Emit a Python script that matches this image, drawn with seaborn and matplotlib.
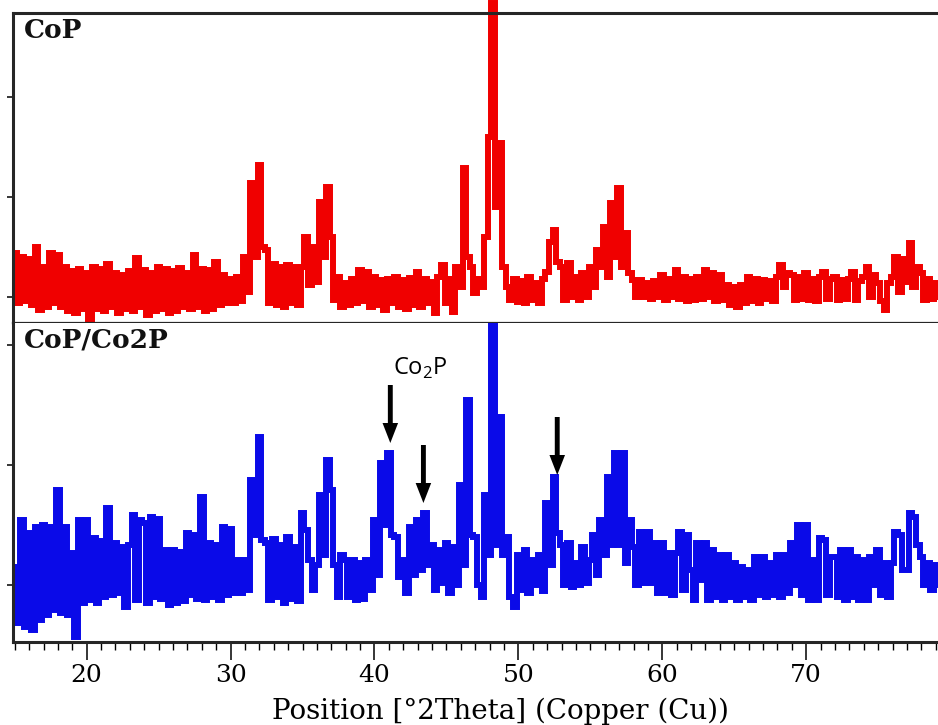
import numpy as np
import pandas as pd
import matplotlib
matplotlib.use("Agg")
import matplotlib.pyplot as plt
from matplotlib.ticker import MultipleLocator, FixedLocator, NullFormatter
import seaborn as sns

# ---- diffraction data (2theta grid starts at 15 deg, 0.25 deg steps) ----
two_theta_start = 15.0
two_theta_step = 0.25

cop_counts = [
    44, -6, 40, -4,      # 15
    38, -8, 50, -13,     # 16
    30, -10, 44, -6,     # 17
    42, -10, 30, -14,    # 18
    26, -16, 28, -12,    # 19
    24, -23, 30, -12,    # 20
    28, -14, 33, -10,    # 21
    24, -16, 22, -12,    # 22
    26, -14, 39, -10,    # 23
    27, -18, 24, -14,    # 24
    30, -12, 28, -16,    # 25
    26, -14, 29, -10,    # 26
    24, -12, 42, -10,    # 27
    28, -14, 27, -12,    # 28
    35, -8, 22, -6,      # 29
    18, -6, 20, -4,      # 30
    40, 5, 114, 40,      # 31
    132, 50, 47, -6,     # 32
    33, -8, 30, -10,     # 33
    32, -6, 30, -8,      # 34
    30, 60, 12, 50,      # 35
    15, 95, 40, 110,     # 36
    60, -3, 20, -10,     # 37
    14, -8, 18, -6,      # 38
    27, -4, 25, -10,     # 39
    20, -8, 17, -13,     # 40
    18, -6, 20, -10,     # 41
    17, -12, 19, -8,     # 42
    25, -10, 18, -6,     # 43
    15, -16, 20, 32,     # 44
    -6, 18, -15, 30,     # 45
    10, 129, 40, 30,     # 46
    4, 18, 10, 60,       # 47
    160, 294, 90, 154,   # 48
    30, 10, -3, 18,      # 49
    -5, 16, -6, 20,      # 50
    -3, 14, -6, 18,      # 51
    25, 55, 67, 35,      # 52
    30, -3, 34, 0,       # 53
    20, -3, 24, 0,       # 54
    30, 10, 47, 30,      # 55
    70, 20, 94, 40,      # 56
    109, 30, 64, 24,     # 57
    17, 0, 17, 0,        # 58
    14, -2, 16, 0,       # 59
    22, -3, 18, 0,       # 60
    27, -2, 20, -4,      # 61
    18, -3, 20, -2,      # 62
    27, 0, 24, -4,       # 63
    22, -3, 12, -8,      # 64
    10, -10, 12, -6,     # 65
    20, -4, 18, -6,      # 66
    17, -2, 16, -4,      # 67
    20, 32, 10, 24,      # 68
    22, -3, 20, -2,      # 69
    24, -3, 18, -4,      # 70
    20, 25, -2, 18,      # 71
    20, -3, 17, -2,      # 72
    18, 25, -3, 16,      # 73
    20, 30, 0, 22,       # 74
    14, -4, -13, 14,     # 75
    20, 40, 5, 38,       # 76
    15, 54, 10, 30,      # 77
    24, -3, 18, -2,      # 78
    14, 0,               # 79
]

cop_co2p_counts = [
    18, -38, 65, -42,    # 15
    52, -45, 58, -35,    # 16
    60, -30, 58, -25,    # 17
    95, -28, 58, -30,    # 18
    32, -52, 65, -18,    # 19
    65, -15, 47, -18,    # 20
    44, -12, 77, -10,    # 21
    42, -8, 38, -22,     # 22
    40, 70, -15, 65,     # 23
    62, -18, 68, -12,    # 24
    66, -14, 35, -20,    # 25
    35, -18, 33, -16,    # 26
    52, -10, 50, -14,    # 27
    88, -15, 42, -12,    # 28
    40, -15, 58, -10,    # 29
    56, -8, 25, -8,      # 30
    25, -5, 105, 50,     # 31
    148, 45, 42, -15,    # 32
    46, -12, 40, -18,    # 33
    48, -14, 38, -16,    # 34
    72, 55, 25, -5,      # 35
    20, 90, 30, 125,     # 36
    95, 20, -12, 30,     # 37
    25, -12, 25, -15,    # 38
    22, -14, 25, -5,     # 39
    65, 10, 122, 60,     # 40
    132, 50, 48, 8,      # 41
    25, -8, 58, 10,      # 42
    65, 15, 72, 20,      # 43
    40, -5, 35, 2,       # 44
    42, -8, 38, 0,       # 45
    100, 20, 185, 50,    # 46
    48, 0, -12, 90,      # 47
    30, 262, 40, 168,    # 48
    30, 48, -12, -22,    # 49
    30, -5, 35, -8,      # 50
    25, 0, 30, -6,       # 51
    82, 20, 108, 52,     # 52
    40, 0, 42, -2,       # 53
    22, 0, 38, 2,        # 54
    25, 50, 10, 65,      # 55
    30, 108, 40, 132,    # 56
    40, 132, 22, 65,     # 57
    38, 0, 53, 2,        # 58
    53, 2, 42, -8,       # 59
    42, -8, 32, -10,     # 60
    32, 53, -5, 50,      # 61
    15, -15, 42, 5,      # 62
    42, -15, 35, -12,    # 63
    30, -15, 30, -12,    # 64
    22, -15, 18, -12,    # 65
    15, -15, 28, -10,    # 66
    28, -12, 22, -10,    # 67
    30, -12, 30, -8,     # 68
    42, 0, 60, -10,      # 69
    60, -15, 25, -15,    # 70
    47, 45, -10, 28,     # 71
    28, -12, 35, -15,    # 72
    35, -12, 28, -15,    # 73
    25, -15, 28, 0,      # 74
    35, -10, 22, -12,    # 75
    22, 53, 50, 15,      # 76
    15, 72, 68, 40,      # 77
    28, 0, 22, -5,       # 78
    20, 0,               # 79
]

panel_labels = ["CoP", "CoP/Co2P"]
x_major_ticks = [20, 30, 40, 50, 60, 70]
cop_y_ticks = [0, 100, 200]
mixed_y_ticks = [0, 120, 240]

# Co2P reflections marked with arrows: position, arrow tip, arrow tail
co2p_positions = [41.1, 43.4, 52.7]
co2p_tips = [142, 82, 110]
co2p_tails = [200, 140, 168]
co2p_label = "Co$_\\mathregular{2}$P"
co2p_label_pos = (43.2, 217)

xlabel = "Position [\u00b02Theta] (Copper (Cu))"

# ---- figure ----
sns.set_theme(style="white")
plt.rcParams["font.family"] = ["DejaVu Serif"]

two_theta = two_theta_start + two_theta_step * np.arange(len(cop_counts))
df_top = pd.DataFrame({"two_theta": two_theta, "counts": cop_counts})
df_bot = pd.DataFrame({"two_theta": two_theta, "counts": cop_co2p_counts})

fig = plt.figure(figsize=(9.38, 7.25), dpi=100)
left = 13 / 938
ax_top = fig.add_axes([left, 1 - 323 / 725, 1 - left, 310 / 725])
ax_bot = fig.add_axes([left, 1 - 642 / 725, 1 - left, 319 / 725], sharex=ax_top)

line_kws = dict(linewidth=4.3, drawstyle="steps-mid", estimator=None,
                solid_joinstyle="miter", solid_capstyle="butt")
sns.lineplot(data=df_top, x="two_theta", y="counts", ax=ax_top,
             color="#f00000", **line_kws)
ax_top.lines[-1].set_clip_on(False)
sns.lineplot(data=df_bot, x="two_theta", y="counts", ax=ax_bot,
             color="#0a0ae8", **line_kws)

ax_top.set_xlim(14.88, 79.16)
ax_top.set_ylim(-26, 284)
ax_bot.set_ylim(-57, 262)

for ax in (ax_top, ax_bot):
    ax.set_xlabel("")
    ax.set_ylabel("")
    ax.spines["right"].set_visible(False)
    ax.spines["left"].set_linewidth(2.2)
    ax.spines["top"].set_linewidth(2.2)
    ax.spines["bottom"].set_linewidth(2.2)
    ax.yaxis.set_major_formatter(NullFormatter())
    ax.tick_params(axis="y", which="major", direction="out", length=4,
                   width=1.1, color="black", left=True)

ax_top.spines["bottom"].set_linewidth(1.6)
ax_bot.spines["top"].set_visible(False)
ax_top.yaxis.set_major_locator(FixedLocator(cop_y_ticks))
ax_bot.yaxis.set_major_locator(FixedLocator(mixed_y_ticks))

ax_top.tick_params(axis="x", which="both", bottom=False, labelbottom=False)
ax_bot.xaxis.set_major_locator(FixedLocator(x_major_ticks))
ax_bot.xaxis.set_minor_locator(MultipleLocator(1))
ax_bot.tick_params(axis="x", which="major", direction="out", length=13,
                   width=1.1, color="black", bottom=True, labelsize=18,
                   pad=3)
ax_bot.tick_params(axis="x", which="minor", direction="out", length=5.5,
                   width=1.0, color="black", bottom=True)
for lab in ax_bot.get_xticklabels():
    lab.set_color("black")

ax_bot.set_xlabel(xlabel, fontsize=20, color="black")
ax_bot.xaxis.set_label_coords(0.527, -0.175)

ax_top.text(0.012, 0.985, panel_labels[0], transform=ax_top.transAxes,
            ha="left", va="top", fontsize=19, fontweight="bold", color="#111")
ax_bot.text(0.012, 0.985, panel_labels[1], transform=ax_bot.transAxes,
            ha="left", va="top", fontsize=19, fontweight="bold", color="#111")

for pos, tip, tail in zip(co2p_positions, co2p_tips, co2p_tails):
    ax_bot.annotate("", xy=(pos, tip), xytext=(pos, tail),
                    arrowprops=dict(arrowstyle="simple,head_length=0.9,head_width=0.7,tail_width=0.22",
                                    mutation_scale=16, fc="black", ec="none",
                                    shrinkA=0, shrinkB=0))
ax_bot.text(*co2p_label_pos, co2p_label, ha="center", va="center",
            fontsize=17, family=["Open Sans", "DejaVu Sans"], color="black")

fig.savefig("out.png", dpi=100, facecolor="white")
